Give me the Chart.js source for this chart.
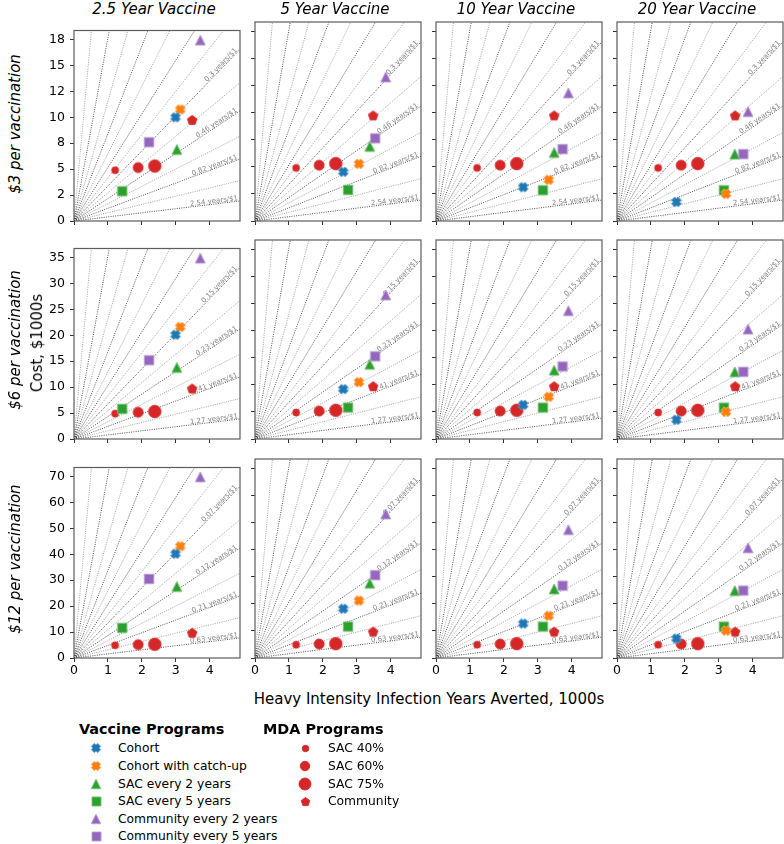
<!DOCTYPE html>
<html>
<head>
<meta charset="utf-8">
<script src="https://cdn.jsdelivr.net/npm/chart.js@4.4.0/dist/chart.umd.min.js"></script>
<style>
body { margin: 0; background: #fff; }
#wrap { position: relative; width: 784px; height: 844px; overflow: hidden; font-family: 'DejaVu Sans', sans-serif; }
.txt { position: absolute; white-space: nowrap; color: #000; line-height: normal; }
canvas { position: absolute; }
</style>
</head>
<body>
<div id="wrap"></div>
<script>
// ---- text ----
const colTitles = ['2.5 Year Vaccine', '5 Year Vaccine', '10 Year Vaccine', '20 Year Vaccine'];
const rowTitles = ['$3 per vaccination', '$6 per vaccination', '$12 per vaccination'];
const costLabel = 'Cost, $1000s';
const xLabel = 'Heavy Intensity Infection Years Averted, 1000s';

// ---- axes ----
const xMax = 4.89;
const yMax = [18.375, 36.75, 73.5];
const xTicks = [0, 1, 2, 3, 4];
const yTicks = [
    [0, 2.5, 5, 7.5, 10, 12.5, 15, 17.5],
    [0, 5, 10, 15, 20, 25, 30, 35],
    [0, 10, 20, 30, 40, 50, 60, 70]
];
const yTickLabels = [
    ['0', '2', '5', '8', '10', '12', '15', '18'],
    ['0', '5', '10', '15', '20', '25', '30', '35'],
    ['0', '10', '20', '30', '40', '50', '60', '70']
];

// reference rays (angle in axes fraction space, degrees)
const rayAngles = [6, 12, 18, 24, 30, 36, 42, 48, 54, 60, 66, 72, 78, 84];
const labelledRays = [6, 18, 30, 42];
const rayLabels = [
    ['2.54', '0.82', '0.46', '0.3'],
    ['1.27', '0.41', '0.23', '0.15'],
    ['0.63', '0.21', '0.12', '0.07']
];

// ---- vaccine programs: x per column, y per row/column ----
const cohortX = [2.99, 2.60, 2.57, 1.75];
const cohortY = [[10.0, 4.54, 3.12, 1.76], [20.1, 9.2, 6.3, 3.55], [40.2, 18.2, 12.7, 7.2]];
const catchupX = [3.13, 3.06, 3.32, 3.21];
const catchupY = [[10.75, 5.28, 3.8, 2.5], [21.6, 10.5, 7.8, 5.0], [43.1, 21.2, 15.6, 10.1]];
const sac2X = [3.03, 3.38, 3.48, 3.47];
const sac2Y = [[6.9, 6.89, 6.33, 6.18], [13.8, 13.8, 12.7, 12.4], [27.6, 27.6, 25.5, 24.9]];
const sac5X = [1.42, 2.74, 3.15, 3.15];
const sac5Y = [[2.87, 2.87, 2.84, 2.84], [5.8, 5.8, 5.8, 5.8], [11.6, 11.6, 11.6, 11.6]];
const comm2X = [3.72, 3.85, 3.90, 3.86];
const comm2Y = [[17.45, 13.3, 11.83, 10.1], [34.9, 26.6, 23.7, 20.3], [69.9, 53.2, 47.4, 40.7]];
const comm5X = [2.21, 3.54, 3.73, 3.72];
const comm5Y = [[7.6, 7.63, 6.64, 6.18], [15.2, 15.26, 13.4, 12.4], [30.5, 30.6, 26.7, 24.9]];

// ---- MDA programs (same in every panel) ----
const mdaX = [1.21, 1.89, 2.38, 3.48];
const mdaY = [4.9, 5.15, 5.3, 9.75];

const BLUE = '#1f77b4', ORANGE = '#ff7f0e', GREEN = '#2ca02c', PURPLE = '#9467bd', RED = '#d62728';

const vaccineSeries = [
    { label: 'Cohort', shape: 'x', color: BLUE, x: cohortX, y: cohortY, size: 10, order: 1 },
    { label: 'Cohort with catch-up', shape: 'x', color: ORANGE, x: catchupX, y: catchupY, size: 10, order: 2 },
    { label: 'SAC every 2 years', shape: 'triangle', color: GREEN, x: sac2X, y: sac2Y, size: 10, order: 6 },
    { label: 'SAC every 5 years', shape: 'square', color: GREEN, x: sac5X, y: sac5Y, size: 9.5, order: 5 },
    { label: 'Community every 2 years', shape: 'triangle', color: PURPLE, x: comm2X, y: comm2Y, size: 10, order: 4 },
    { label: 'Community every 5 years', shape: 'square', color: PURPLE, x: comm5X, y: comm5Y, size: 9.5, order: 3 }
];
const mdaSeries = [
    { label: 'SAC 40%', shape: 'circle', size: 7 },
    { label: 'SAC 60%', shape: 'circle', size: 10 },
    { label: 'SAC 75%', shape: 'circle', size: 12.5 },
    { label: 'Community', shape: 'pentagon', size: 9.5 }
];

// ---- layout ----
const plotLeft = [74, 255, 436, 617];
const plotTop = [22, 240, 459];
const PW = 166, PH = 199;
const PADL = 34, PADT = 4, PADR = 4, PADB = 24;

const wrap = document.getElementById('wrap');
Chart.defaults.font.family = "'DejaVu Sans', sans-serif";

function lighten(hex, k)
{
    const n = parseInt(hex.slice(1), 16);
    const r = (n >> 16) & 255, g = (n >> 8) & 255, b = n & 255;
    const f = v => Math.round(v + (255 - v) * k);
    return 'rgb(' + f(r) + ',' + f(g) + ',' + f(b) + ')';
}

function makeMarker(shape, color, s, edge)
{
    const n = Math.ceil(s) + 4;
    const cv = document.createElement('canvas');
    cv.width = n; cv.height = n;
    const g = cv.getContext('2d');
    g.translate(n / 2, n / 2);
    g.beginPath();
    if (shape === 'circle') {
        g.arc(0, 0, s / 2, 0, Math.PI * 2);
    } else if (shape === 'square') {
        g.rect(-s / 2, -s / 2, s, s);
    } else if (shape === 'triangle') {
        g.moveTo(0, -s / 2); g.lineTo(s / 2, s / 2); g.lineTo(-s / 2, s / 2); g.closePath();
    } else if (shape === 'pentagon') {
        const R = s / 1.902;
        for (let k = 0; k < 5; k++) {
            const a = (-90 + 72 * k) * Math.PI / 180;
            if (k === 0) g.moveTo(R * Math.cos(a), R * Math.sin(a) + 0.5);
            else g.lineTo(R * Math.cos(a), R * Math.sin(a) + 0.5);
        }
        g.closePath();
    } else if (shape === 'x') {
        const b = s * 0.4714, a = b / 2;
        const pts = [[-a,-b],[a,-b],[a,-a],[b,-a],[b,a],[a,a],[a,b],[-a,b],[-a,a],[-b,a],[-b,-a],[-a,-a]];
        const c = Math.SQRT1_2;
        pts.forEach((p, i) => {
            const x = (p[0] - p[1]) * c, y = (p[0] + p[1]) * c;
            if (i === 0) g.moveTo(x, y); else g.lineTo(x, y);
        });
        g.closePath();
    }
    g.fillStyle = color;
    g.fill();
    g.lineWidth = 0.9;
    g.strokeStyle = edge ? lighten(color, 0.35) : color;
    g.stroke();
    return cv;
}

function addText(str, x, y, css, rotate, anchor)
{
    const d = document.createElement('div');
    d.className = 'txt';
    d.textContent = str;
    const tr = anchor === 'left' ? 'translate(0,-50%)' : 'translate(-50%,-50%)';
    d.style.cssText = 'left:' + x + 'px;top:' + y + 'px;transform:' + tr + (rotate ? ' rotate(-90deg)' : '') + ';' + css;
    wrap.appendChild(d);
}

function panelPlugin(r)
{
    return {
        id: 'panelDeco',
        beforeDatasetsDraw(chart) {
            const ctx = chart.ctx, xs = chart.scales.x, ys = chart.scales.y;
            const ox = xs.getPixelForValue(0), oy = ys.getPixelForValue(0);
            ctx.save();
            ctx.font = '7px "DejaVu Sans"';
            ctx.fillStyle = '#858585';
            ctx.textAlign = 'right';
            ctx.textBaseline = 'alphabetic';
            labelledRays.forEach((deg, k) => {
                const t = deg * Math.PI / 180;
                const fx = 0.99, fy = fx * Math.tan(t);
                const px = xs.getPixelForValue(fx * xMax), py = ys.getPixelForValue(fy * yMax[r]);
                const ang = Math.atan2(py - oy, px - ox);
                ctx.save();
                ctx.translate(px, py);
                ctx.rotate(ang);
                ctx.fillText(rayLabels[r][k] + ' years/$1', 0, -1);
                ctx.restore();
            });
            ctx.restore();
        },
        afterDraw(chart) {
            const ctx = chart.ctx, a = chart.chartArea;
            ctx.save();
            ctx.strokeStyle = '#5c5c5c';
            ctx.lineWidth = 1.2;
            ctx.strokeRect(a.left, a.top, a.right - a.left, a.bottom - a.top);
            ctx.restore();
        }
    };
}

function buildPanel(r, c)
{
    const cv = document.createElement('canvas');
    const W = PW + PADL + PADR, H = PH + PADT + PADB;
    cv.width = W; cv.height = H;
    cv.style.left = (plotLeft[c] - PADL) + 'px';
    cv.style.top = (plotTop[r] - PADT) + 'px';
    cv.style.width = W + 'px';
    cv.style.height = H + 'px';
    wrap.appendChild(cv);

    const ym = yMax[r];
    const datasets = [];

    vaccineSeries.forEach(s => {
        datasets.push({
            label: s.label,
            data: [{ x: s.x[c], y: s.y[r][c] }],
            pointStyle: makeMarker(s.shape, s.color, s.size, true),
            pointRadius: 5,
            order: s.order
        });
    });
    mdaSeries.forEach((s, i) => {
        datasets.push({
            label: s.label,
            data: [{ x: mdaX[i], y: mdaY[i] }],
            pointStyle: makeMarker(s.shape, RED, s.size, false),
            pointRadius: 5,
            order: 20 + i
        });
    });
    rayAngles.forEach((deg, i) => {
        const t = deg * Math.PI / 180, co = Math.cos(t), si = Math.sin(t);
        const f = 1 / Math.max(co, si);
        const strong = i % 2 === 0;
        datasets.push({
            data: [{ x: 0, y: 0 }, { x: co * f * xMax, y: si * f * ym }],
            showLine: true,
            pointRadius: 0,
            borderWidth: 0.8,
            borderColor: strong ? 'rgba(0,0,0,0.85)' : 'rgba(60,60,60,0.6)',
            borderDash: [1, 1.3],
            order: 100
        });
    });

    new Chart(cv, {
        type: 'scatter',
        data: { datasets: datasets },
        options: {
            responsive: false,
            animation: false,
            events: [],
            layout: { padding: { left: 0, top: PADT, right: PADR, bottom: 0 }, autoPadding: false },
            plugins: { legend: { display: false }, tooltip: { enabled: false } },
            scales: {
                x: {
                    type: 'linear', min: 0, max: xMax,
                    afterBuildTicks: s => { s.ticks = xTicks.map(v => ({ value: v })); },
                    afterFit: s => { s.height = PADB; },
                    ticks: { display: r === 2, font: { size: 12.5 }, color: '#000', padding: 1, maxRotation: 0,
                             callback: (v) => String(v) },
                    grid: { display: true, drawOnChartArea: false, drawTicks: true, tickLength: 4, color: '#333', lineWidth: 1 },
                    border: { display: false }
                },
                y: {
                    type: 'linear', min: 0, max: ym,
                    afterBuildTicks: s => { s.ticks = yTicks[r].map(v => ({ value: v })); },
                    afterFit: s => { s.width = PADL; },
                    ticks: { display: c === 0, font: { size: 12.5 }, color: '#000', padding: 5,
                             callback: (v, i) => yTickLabels[r][i] },
                    grid: { display: true, drawOnChartArea: false, drawTicks: true, tickLength: 4, color: '#333', lineWidth: 1 },
                    border: { display: false }
                }
            }
        },
        plugins: [panelPlugin(r)]
    });
}

for (let r = 0; r < 3; r++)
    for (let c = 0; c < 4; c++)
        buildPanel(r, c);

// titles and axis labels
colTitles.forEach((t, c) => addText(t, plotLeft[c] + PW / 2 - 3, 8.5, 'font-size:15px;font-style:italic;'));
rowTitles.forEach((t, r) => addText(t, 15, plotTop[r] + PH / 2 + (r === 0 ? 2 : 0), 'font-size:15px;font-style:italic;', true));
addText(costLabel, 37, 343, 'font-size:15px;', true);
addText(xLabel, 429, 699, 'font-size:15px;');

// legend
addText('Vaccine Programs', 79, 729, 'font-size:14.4px;font-weight:bold;', false, 'left');
addText('MDA Programs', 263, 729, 'font-size:14.4px;font-weight:bold;', false, 'left');
const legendRowY = [748.3, 765.9, 783.5, 801.1, 818.7, 836.3];
const legendSizes = [9.5, 9.5, 9.5, 9, 9.5, 9];
vaccineSeries.forEach((s, i) => {
    const m = makeMarker(s.shape, s.color, legendSizes[i], true);
    m.style.left = (96 - m.width / 2) + 'px';
    m.style.top = (legendRowY[i] - m.height / 2) + 'px';
    wrap.appendChild(m);
    addText(s.label, 118, legendRowY[i], 'font-size:12.3px;', false, 'left');
});
const mdaLegendSizes = [6.5, 9.5, 12, 8.5];
mdaSeries.forEach((s, i) => {
    const m = makeMarker(s.shape, RED, mdaLegendSizes[i], false);
    m.style.left = (305 - m.width / 2) + 'px';
    m.style.top = (legendRowY[i] - m.height / 2) + 'px';
    wrap.appendChild(m);
    addText(s.label, 328, legendRowY[i], 'font-size:12.3px;', false, 'left');
});
</script>
</body>
</html>
